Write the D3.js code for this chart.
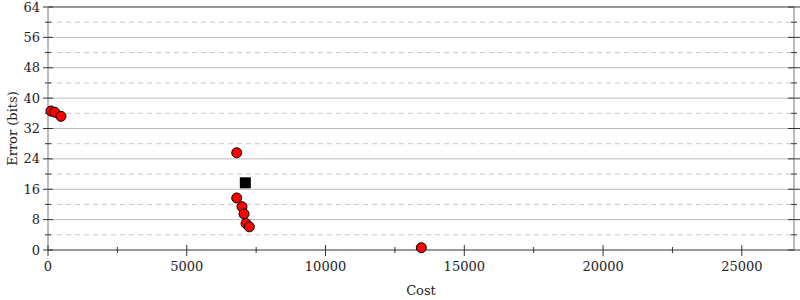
<!DOCTYPE html>
<html>
	<head>
		<meta charset="utf-8">
		<style type="text/css">
			body { margin: 0; background: white; }
			svg { display: block; font-family: "DejaVu Serif", serif; }
			text { fill: #222; }
		</style>
	</head>
	<body>
		<script src="https://cdn.jsdelivr.net/npm/d3@7"></script>
		<script>

// red points: cost vs error
var cost  = [108, 241, 468, 6800, 6800, 6990, 7063, 7135, 7254, 13452];
var error = [36.6, 36.3, 35.2, 25.6, 13.7, 11.4, 9.5, 7.0, 6.1, 0.6];
// black square: initial program
var startCost  = [7110];
var startError = [17.7];

var xTicks = [0, 5000, 10000, 15000, 20000, 25000];
var xMinor = [2500, 7500, 12500, 17500, 22500];
var yTicks = [0, 8, 16, 24, 32, 40, 48, 56, 64];
var yMinor = [4, 12, 20, 28, 36, 44, 52, 60];

var W = 800, H = 300;
var margin = {top: 7, right: 6, bottom: 50, left: 48};

var x = d3.scaleLinear()
    .domain([0, 26880])
    .range([margin.left, W - margin.right]);
var y = d3.scaleLinear()
    .domain([0, 64])
    .range([H - margin.bottom, margin.top]);

var svg = d3.select('body').append('svg')
    .attr('width', W)
    .attr('height', H);

let [x0, x1] = x.range();
let [y0, y1] = y.range();

// grid
svg.append('g').selectAll('line').data(yMinor).join('line')
    .attr('x1', x0).attr('x2', x1)
    .attr('y1', d => y(d)).attr('y2', d => y(d))
    .attr('stroke', '#c8c8c8')
    .attr('stroke-dasharray', '5,4');
svg.append('g').selectAll('line').data(yTicks.filter(d => d > 0 && d < 64)).join('line')
    .attr('x1', x0).attr('x2', x1)
    .attr('y1', d => y(d)).attr('y2', d => y(d))
    .attr('stroke', '#bbb');
svg.append('line')
    .attr('x1', x0).attr('x2', x1)
    .attr('y1', y(64)).attr('y2', y(64))
    .attr('stroke', '#999').attr('stroke-width', 2);

// axis frame lines
svg.append('line')
    .attr('x1', x0).attr('x2', x0).attr('y1', y1).attr('y2', y0)
    .attr('stroke', '#bbb').attr('stroke-width', 2);
svg.append('line')
    .attr('x1', x1).attr('x2', x1).attr('y1', y1).attr('y2', y0)
    .attr('stroke', '#bbb').attr('stroke-width', 2);
svg.append('line')
    .attr('x1', x0).attr('x2', x1).attr('y1', y0).attr('y2', y0)
    .attr('stroke', '#999').attr('stroke-width', 2);

// y axis ticks (left and right)
let ticks = svg.append('g').attr('stroke', '#333');
ticks.selectAll('.yl').data(yTicks).join('line')
    .attr('x1', x0 - 5).attr('x2', x0 + 5)
    .attr('y1', d => y(d)).attr('y2', d => y(d));
ticks.selectAll('.ylm').data(yMinor).join('line')
    .attr('x1', x0 - 3).attr('x2', x0 + 3)
    .attr('y1', d => y(d)).attr('y2', d => y(d));
ticks.selectAll('.yr').data(yTicks).join('line')
    .attr('x1', x1 - 6).attr('x2', x1 + 6)
    .attr('y1', d => y(d)).attr('y2', d => y(d));
ticks.selectAll('.yrm').data(yMinor).join('line')
    .attr('x1', x1 - 3).attr('x2', x1 + 3)
    .attr('y1', d => y(d)).attr('y2', d => y(d));
// x axis ticks
ticks.selectAll('.xt').data(xTicks).join('line')
    .attr('x1', d => x(d)).attr('x2', d => x(d))
    .attr('y1', y0 - 5).attr('y2', y0 + 6);
ticks.selectAll('.xm').data(xMinor).join('line')
    .attr('x1', d => x(d)).attr('x2', d => x(d))
    .attr('y1', y0 - 3).attr('y2', y0 + 3);

// tick labels
svg.append('g').selectAll('text').data(yTicks).join('text')
    .attr('x', x0 - 8)
    .attr('y', d => y(d))
    .attr('dy', '0.35em')
    .attr('text-anchor', 'end')
    .attr('font-size', 13)
    .text(d => d);
svg.append('g').selectAll('text').data(xTicks).join('text')
    .attr('x', d => x(d))
    .attr('y', y0 + 21)
    .attr('text-anchor', 'middle')
    .attr('font-size', 13)
    .text(d => d);

// axis titles
svg.append('text')
    .attr('x', (x0 + x1) / 2)
    .attr('y', 295)
    .attr('text-anchor', 'middle')
    .attr('font-size', 13)
    .text('Cost');
svg.append('text')
    .attr('transform', `translate(12,${(y0 + y1) / 2}) rotate(-90)`)
    .attr('dy', '0.35em')
    .attr('text-anchor', 'middle')
    .attr('font-size', 13)
    .text('Error (bits)');

// points
svg.append('g').selectAll('circle').data(cost).join('circle')
    .attr('cx', d => x(d))
    .attr('cy', (d, i) => y(error[i]))
    .attr('r', 5)
    .attr('fill', 'red')
    .attr('stroke', 'black')
    .attr('stroke-width', 1);

svg.append('g').selectAll('rect').data(startCost).join('rect')
    .attr('x', d => x(d) - 5.5)
    .attr('y', (d, i) => y(startError[i]) - 5.5)
    .attr('width', 11)
    .attr('height', 11)
    .attr('fill', 'black');

		</script>
	</body>
</html>
